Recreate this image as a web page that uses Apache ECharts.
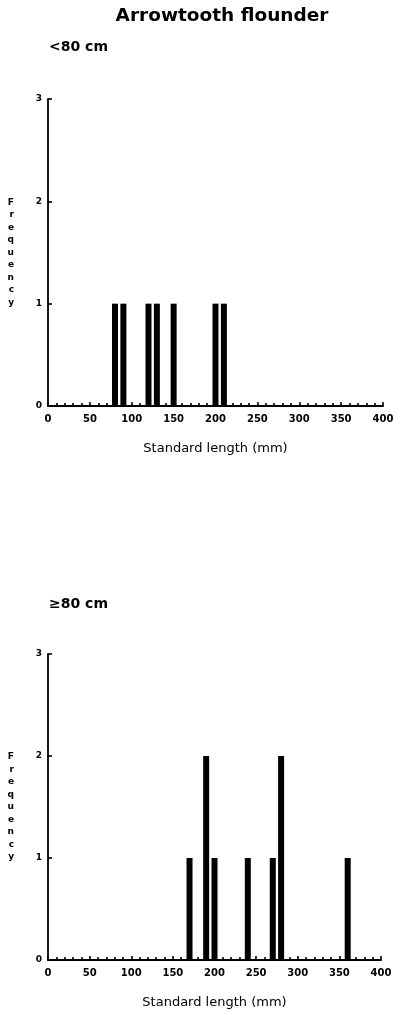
<!DOCTYPE html>
<html><head><meta charset="utf-8">
<script src="https://cdn.jsdelivr.net/npm/echarts@6/dist/echarts.min.js"></script>
<style>html,body{margin:0;padding:0;background:#fff}#c{width:399px;height:1013px}</style>
</head><body><div id="c"></div>
<script>
const title = "Arrowtooth flounder";
const panelTitles = ["<80 cm", "\u226580 cm"];
const xTicks = [0, 50, 100, 150, 200, 250, 300, 350, 400];
const yTicks = [0, 1, 2, 3];
const lengthsSmall = [80, 90, 120, 130, 150, 200, 210];
const freqSmall = [1, 1, 1, 1, 1, 1, 1];
const lengthsLarge = [170, 190, 200, 240, 270, 280, 360];
const freqLarge = [1, 2, 1, 1, 1, 2, 1];
const xName = "Standard length (mm)";
const yName = "Frequency";

const FONT = "DejaVu Sans, Liberation Sans, Arial, sans-serif";
const chart = echarts.init(document.getElementById('c'), null, {renderer: 'canvas'});

function xAx(i) {
  return {
    type: 'value', gridIndex: i, min: xTicks[0], max: xTicks[xTicks.length - 1], interval: 50,
    axisLine: {lineStyle: {color: '#000', width: 1.8}},
    axisTick: {inside: true, length: 4, lineStyle: {color: '#000', width: 1.6}},
    minorTick: {show: true, splitNumber: 5, length: 3, lineStyle: {color: '#000', width: 1.6}},
    splitLine: {show: false},
    axisLabel: {color: '#000', fontFamily: FONT, fontWeight: 'bold', fontSize: 10, margin: 8},
    name: xName, nameLocation: 'middle', nameGap: 36,
    nameTextStyle: {color: '#000', fontFamily: FONT, fontSize: 13}
  };
}
function yAx(i) {
  return {
    type: 'value', gridIndex: i, min: yTicks[0], max: yTicks[yTicks.length - 1], interval: 1,
    axisLine: {show: true, lineStyle: {color: '#000', width: 1.8}},
    axisTick: {show: true, inside: true, length: 4, lineStyle: {color: '#000', width: 1.6}},
    splitLine: {show: false},
    axisLabel: {color: '#000', fontFamily: FONT, fontWeight: 'bold', fontSize: 9, margin: 6},
    name: yName.split('').join('\n'), nameLocation: 'middle', nameGap: 34, nameRotate: 0,
    nameTextStyle: {color: '#000', fontFamily: FONT, fontWeight: 'bold', fontSize: 9, lineHeight: 12.5}
  };
}
function ser(i, xs, ys) {
  return {
    type: 'bar', xAxisIndex: i, yAxisIndex: i, barWidth: 6,
    itemStyle: {color: '#000'},
    data: xs.map((x, k) => [x, ys[k]])
  };
}

chart.setOption({
  animation: false,
  backgroundColor: '#fff',
  title: [
    {text: title, left: 217, top: 2, textAlign: 'center',
     textStyle: {fontFamily: FONT, fontWeight: 'bold', fontSize: 18.5, color: '#000'}},
    {text: panelTitles[0], left: 44, top: 35,
     textStyle: {fontFamily: FONT, fontWeight: 'bold', fontSize: 14, color: '#000'}},
    {text: panelTitles[1], left: 44, top: 592,
     textStyle: {fontFamily: FONT, fontWeight: 'bold', fontSize: 14, color: '#000'}}
  ],
  grid: [
    {left: 48, top: 99, width: 335, height: 307},
    {left: 48, top: 654, width: 333, height: 306}
  ],
  xAxis: [xAx(0), xAx(1)],
  yAxis: [yAx(0), yAx(1)],
  series: [ser(0, lengthsSmall, freqSmall), ser(1, lengthsLarge, freqLarge)]
});
</script></body></html>
